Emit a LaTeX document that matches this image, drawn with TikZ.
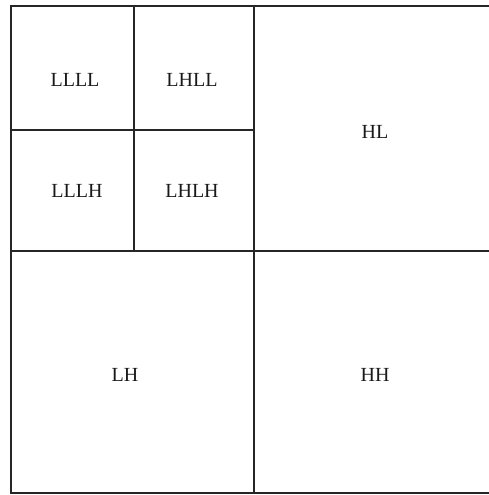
\documentclass[tikz,border=0pt]{standalone}
\usepackage{fontspec}
\setmainfont{Liberation Serif}
\begin{document}
\begin{tikzpicture}[x=1pt, y=-1pt, line width=1.3pt]
    % Vaste afmetingen van het plaatje
    \useasboundingbox (0, 0) rectangle (489, 495);
    \clip (0, 0) rectangle (489, 495);

    % Buitenrand (rechterkant valt buiten beeld)
    \draw[black!85] (11, 6) rectangle (497, 493);

    % Eerste niveau: middenlijnen
    \draw[black!85] (254, 6) -- (254, 493);
    \draw[black!85] (11, 251) -- (497, 251);

    % Tweede niveau: LL opgedeeld
    \draw[black!85] (134, 6) -- (134, 251);
    \draw[black!85] (11, 130) -- (254, 130);

    % Bijschriften van de banden
    \tikzset{band/.style={font=\fontsize{20}{22}\selectfont, text=black!90, inner sep=0pt}}
    \node[band] (llll) at (75, 80) {LLLL};
    \node[band] (lhll) at (192, 80) {LHLL};
    \node[band] (lllh) at (77, 191) {LLLH};
    \node[band] (lhlh) at (192, 191) {LHLH};
    \node[band] (hl) at (375, 132) {HL};
    \node[band] (lh) at (125, 375) {LH};
    \node[band] (hh) at (375, 375) {HH};
\end{tikzpicture}
\end{document}
